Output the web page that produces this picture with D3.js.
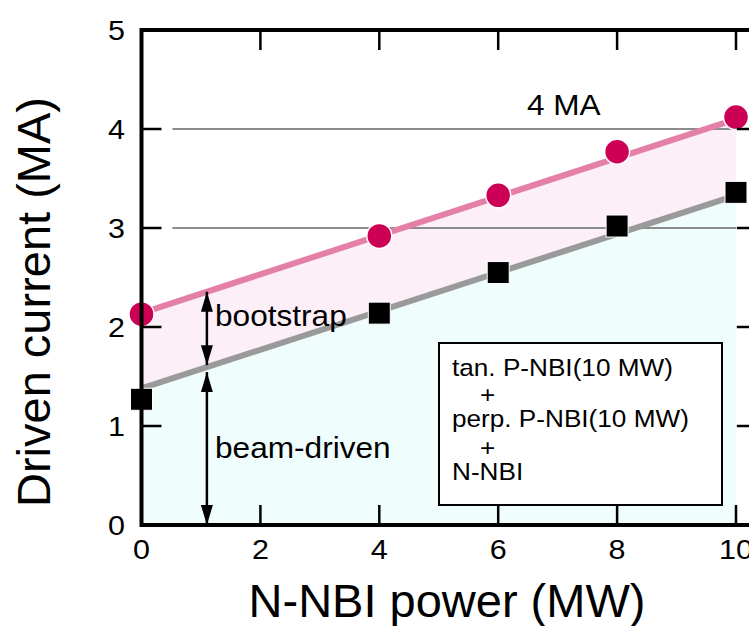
<html>
<script src="https://d3js.org/d3.v7.min.js"></script>
<style>
    body { margin: 0; background: #fff; }
    text { font-family: "Liberation Sans", Arial, Helvetica, sans-serif; fill: #000; }
</style>
<body>
<script>
    var width = 749
    var height = 626

    // measured points
    var power = [0, 4, 6, 8, 10]
    var totalCurrent = [2.13, 2.92, 3.33, 3.77, 4.12]
    var beamCurrent = [1.27, 2.14, 2.55, 3.02, 3.36]

    // straight fits drawn through the points
    var fitTotal = [[0, 2.14], [10, 4.1]]
    var fitBeam = [[0, 1.38], [10, 3.33]]

    var xTicks = [0, 2, 4, 6, 8, 10]
    var yTicks = [0, 1, 2, 3, 4, 5]
    var gridValues = [3, 4]
    var legendLines = ['tan. P-NBI(10 MW)', '+', 'perp. P-NBI(10 MW)', '+', 'N-NBI']

    var svg = d3.select('body').append('svg').attr('width', width).attr('height', height)

    var x = d3.scaleLinear().domain([0, 10]).range([141.5, 736])
    var y = d3.scaleLinear().domain([0, 5]).range([525, 30])
    var xMax = 10.35   // frame continues a bit past the last tick

    function fitAt(fit, v) {
        var t = (v - fit[0][0]) / (fit[1][0] - fit[0][0])
        return fit[0][1] + t * (fit[1][1] - fit[0][1])
    }

    // the original lettering is a little wider than the font
    function label(px, py, size, str, anchor) {
        return svg.append('text')
            .attr('transform', 'translate(' + px + ',' + py + ') scale(1.09,1)')
            .attr('text-anchor', anchor || 'start')
            .attr('font-size', size).text(str)
    }

    // shaded bands
    var bandBeam = d3.area().x(function(d){return x(d[0])}).y0(y(0)).y1(function(d){return y(d[1])})
    svg.append('path').attr('d', bandBeam(fitBeam)).attr('fill', '#effdfd')

    var bandBoot = d3.area().x(function(d){return x(d[0])})
        .y0(function(d){return y(fitAt(fitBeam, d[0]))}).y1(function(d){return y(d[1])})
    svg.append('path').attr('d', bandBoot(fitTotal)).attr('fill', '#fdeff8')

    // grid lines
    svg.selectAll('.grid').data(gridValues).enter().append('line')
        .attr('x1', x(0.52)).attr('x2', x(10))
        .attr('y1', function(d){return y(d)}).attr('y2', function(d){return y(d)})
        .attr('stroke', '#8c8c8c').attr('stroke-width', 2)

    // fit lines
    var line = d3.line().x(function(d){return x(d[0])}).y(function(d){return y(d[1])})
    svg.append('path').attr('d', line(fitBeam)).attr('stroke', '#9a9a9a').attr('stroke-width', 6).attr('fill', 'none')
    svg.append('path').attr('d', line(fitTotal)).attr('stroke', '#e47fa8').attr('stroke-width', 6).attr('fill', 'none')

    // markers
    svg.selectAll('.sq').data(power).enter().append('rect')
        .attr('x', function(d){return x(d) - 11})
        .attr('y', function(d, i){return y(beamCurrent[i]) - 11})
        .attr('width', 22).attr('height', 22)
        .attr('fill', '#000').attr('stroke', '#fff').attr('stroke-width', 1)

    svg.selectAll('.dot').data(power).enter().append('circle')
        .attr('cx', function(d){return x(d)})
        .attr('cy', function(d, i){return y(totalCurrent[i])})
        .attr('r', 12.5)
        .attr('fill', '#cc0055').attr('stroke', '#fff').attr('stroke-width', 1.5)

    // frame
    var frame = svg.append('g').attr('stroke', '#000').attr('fill', 'none')
    frame.append('path')
        .attr('d', 'M' + x(xMax) + ',' + y(5) + 'H' + x(0) + 'V' + y(0) + 'H' + x(xMax))
        .attr('stroke-width', 4)
    frame.append('line').attr('x1', x(xMax)).attr('x2', x(xMax)).attr('y1', y(5)).attr('y2', y(0)).attr('stroke-width', 4)

    var tickLen = 20
    xTicks.slice(1).forEach(function(v){
        frame.append('line').attr('x1', x(v)).attr('x2', x(v)).attr('y1', y(0)).attr('y2', y(0) - tickLen).attr('stroke-width', 2.5)
        frame.append('line').attr('x1', x(v)).attr('x2', x(v)).attr('y1', y(5)).attr('y2', y(5) + tickLen).attr('stroke-width', 2.5)
    })
    yTicks.slice(1, 5).forEach(function(v){
        frame.append('line').attr('x1', x(0)).attr('x2', x(0) + tickLen).attr('y1', y(v)).attr('y2', y(v)).attr('stroke-width', 2.5)
        frame.append('line').attr('x1', x(xMax)).attr('x2', x(xMax) - tickLen).attr('y1', y(v)).attr('y2', y(v)).attr('stroke-width', 2.5)
    })

    // tick labels
    xTicks.forEach(function(v){ label(x(v), 559, 28, v, 'middle') })
    yTicks.forEach(function(v){ label(125, y(v) + 10, 28, v, 'end') })

    // axis titles
    svg.append('text').attr('x', 447).attr('y', 617).attr('text-anchor', 'middle')
        .attr('font-size', 47).text('N-NBI power (MW)')
    svg.append('text').attr('transform', 'translate(50,302) rotate(-90)').attr('text-anchor', 'middle')
        .attr('font-size', 47).text('Driven current (MA)')

    // annotations
    label(x(6.5) - 1, 115, 29, '4 MA')

    var arrowX = 1.1
    svg.append('defs').append('marker').attr('id', 'head').attr('viewBox', '0 0 20 12')
        .attr('refX', 20).attr('refY', 6).attr('markerWidth', 20).attr('markerHeight', 12)
        .attr('markerUnits', 'userSpaceOnUse').attr('orient', 'auto-start-reverse')
        .append('path').attr('d', 'M0,0 L20,6 L0,12 Z').attr('fill', '#000')

    var yTop = y(fitAt(fitTotal, arrowX))
    var yMid = y(fitAt(fitBeam, arrowX))
    svg.append('line').attr('x1', x(arrowX)).attr('x2', x(arrowX)).attr('y1', yTop).attr('y2', yMid - 2)
        .attr('stroke', '#000').attr('stroke-width', 2.5)
        .attr('marker-start', 'url(#head)').attr('marker-end', 'url(#head)')
    svg.append('line').attr('x1', x(arrowX)).attr('x2', x(arrowX)).attr('y1', yMid + 5).attr('y2', y(0))
        .attr('stroke', '#000').attr('stroke-width', 2.5)
        .attr('marker-start', 'url(#head)').attr('marker-end', 'url(#head)')

    label(215, 326, 29, 'bootstrap')
    label(215, 458, 29, 'beam-driven')

    // legend box
    svg.append('rect').attr('x', 439).attr('y', 343).attr('width', 283).attr('height', 162)
        .attr('fill', '#fff').attr('stroke', '#000').attr('stroke-width', 2)
    var legendY = [376, 403, 427, 456, 480]
    legendLines.forEach(function(s, i){
        label(s == '+' ? 480 : 452, legendY[i], 24, s)
    })
</script>
</body>
</html>
